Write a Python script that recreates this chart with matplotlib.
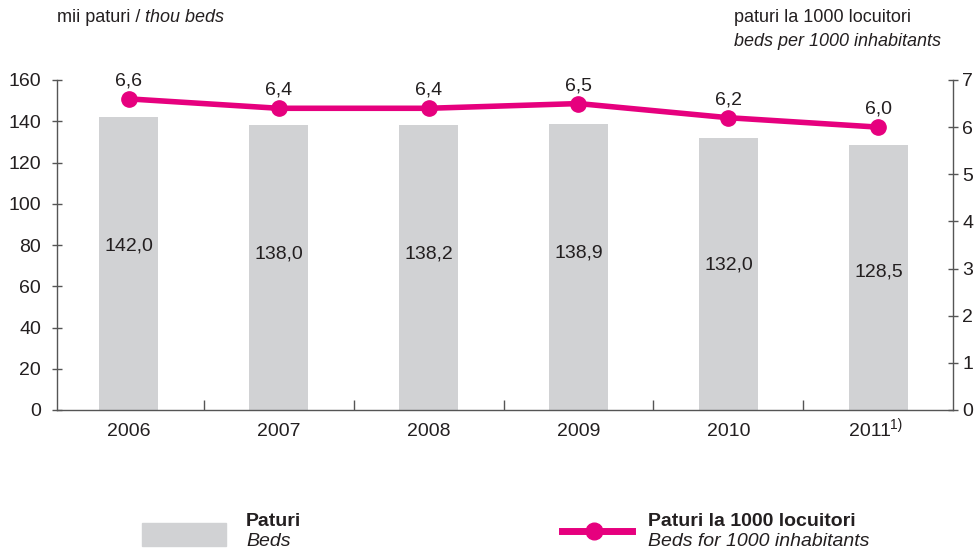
import matplotlib
matplotlib.use("Agg")
import matplotlib.pyplot as plt
import matplotlib.transforms as mtransforms
from matplotlib.patches import Rectangle
from matplotlib.lines import Line2D

years = ["2006", "2007", "2008", "2009", "2010", "2011"]
footnote = "1)"
beds = [142.0, 138.0, 138.2, 138.9, 132.0, 128.5]
per_1000 = [6.6, 6.4, 6.4, 6.5, 6.2, 6.0]
bed_label_y = [79.7, 75.8, 75.8, 76.3, 70.5, 66.7]

plt.rcParams['font.family'] = ['Liberation Sans', 'DejaVu Sans']
GRAY = '#d1d2d4'
MAG = '#e6007e'
AX = '#555555'
TXT = '#231f20'
FS = 14

W, H = 976, 551
fig = plt.figure(figsize=(W / 100, H / 100), dpi=100)
L, R, B, T = 57, 953, 410, 80
ax = fig.add_axes([L / W, 1 - B / H, (R - L) / W, (B - T) / H])
x = list(range(len(years)))
ax.bar(x, beds, width=0.39, color=GRAY, zorder=1)
for xi, v, ly in zip(x, beds, bed_label_y):
    ax.text(xi, ly, f"{v:.1f}".replace('.', ','), ha='center', va='center', fontsize=FS, color=TXT)

ax.set_xlim(-0.477, len(years) - 0.503)
ax.set_ylim(0, 160)
ax.set_yticks(range(0, 161, 20))
ax.set_xticks(x)
ax.set_xticklabels(years, fontsize=FS, color=TXT)
ax.set_xticks([i + 0.5 for i in x[:-1]], minor=True)
ax.tick_params(axis='x', which='major', length=0, pad=9)
ax.tick_params(axis='x', which='minor', direction='in', length=7, color=AX, width=1)
ax.tick_params(axis='y', direction='inout', length=7, color=AX, width=1, labelsize=FS, labelcolor=TXT, pad=8)
ax.spines['top'].set_visible(False)
ax.spines['right'].set_visible(False)
for s in ['left', 'bottom']:
    ax.spines[s].set_color(AX)
    ax.spines[s].set_linewidth(1)

# shift last year label left and add footnote marker
last = ax.get_xticklabels()[-1]
last.set_transform(last.get_transform() + mtransforms.ScaledTranslation(-6 / 72, 0, fig.dpi_scale_trans))
ax.annotate(footnote, xy=(x[-1], 0), xycoords=('data', 'axes fraction'),
            xytext=(8.5, -6), textcoords='offset points', ha='left', va='top',
            fontsize=10, color=TXT)

ax2 = ax.twinx()
ax2.set_ylim(0, 7)
ax2.set_yticks(range(0, 8))
ax2.plot(x, per_1000, color=MAG, lw=4, marker='o', ms=11, zorder=3, solid_capstyle='round')
for xi, v in zip(x, per_1000):
    ax2.text(xi, v + 0.2, f"{v:.1f}".replace('.', ','), ha='center', va='bottom', fontsize=FS, color=TXT)
ax2.tick_params(axis='y', direction='inout', length=7, color=AX, width=1, labelsize=FS, labelcolor=TXT, pad=3)
for s in ['top', 'left', 'bottom']:
    ax2.spines[s].set_visible(False)
ax2.spines['right'].set_color(AX)
ax2.spines['right'].set_linewidth(1)

# axis titles
fig.canvas.draw()
r = fig.canvas.get_renderer()
t1 = fig.text(57 / W, 1 - 18 / H, "mii paturi / ", fontsize=13, color=TXT, va='center', ha='left')
bb = t1.get_window_extent(r)
fig.text(bb.x1 / W, 1 - 18 / H, "thou beds", fontsize=13, color=TXT, va='center', ha='left', style='italic')
fig.text(734 / W, 1 - 18 / H, "paturi la 1000 locuitori", fontsize=13, color=TXT, va='center', ha='left')
fig.text(734 / W, 1 - 41 / H, "beds per 1000 inhabitants", fontsize=13, color=TXT, va='center', ha='left', style='italic')

# legend
fig.patches.append(Rectangle((142 / W, 1 - 546 / H), 84 / W, 23 / H, transform=fig.transFigure, color=GRAY))
fig.text(246 / W, 1 - 521 / H, "Paturi", fontsize=FS, fontweight='bold', color=TXT, va='center')
fig.text(246 / W, 1 - 542 / H, "Beds", fontsize=FS, style='italic', color=TXT, va='center')
fig.lines.append(Line2D([562 / W, 632 / W], [1 - 531 / H, 1 - 531 / H], transform=fig.transFigure, color=MAG, lw=5))
fig.lines.append(Line2D([594 / W], [1 - 531 / H], transform=fig.transFigure, color=MAG, marker='o', ms=12))
fig.text(648 / W, 1 - 521 / H, "Paturi la 1000 locuitori", fontsize=FS, fontweight='bold', color=TXT, va='center')
fig.text(648 / W, 1 - 542 / H, "Beds for 1000 inhabitants", fontsize=FS, style='italic', color=TXT, va='center')

fig.savefig("out.png", dpi=100)
